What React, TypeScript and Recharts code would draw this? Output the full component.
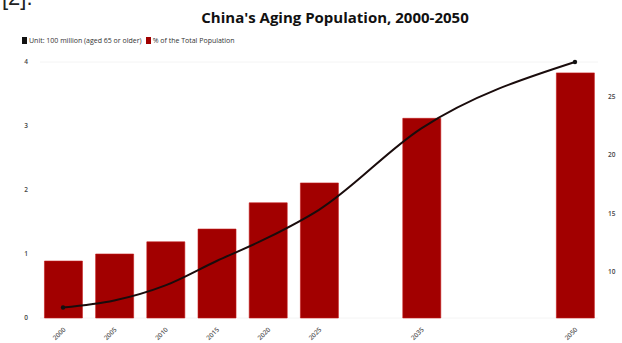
import React from 'react';
import { ComposedChart, Bar, Line, XAxis, YAxis, CartesianGrid } from 'recharts';

const years = [2000, 2005, 2010, 2015, 2020, 2025, 2035, 2050];
// aged 65+, hundred million people (bars, left axis)
const elderly = [0.89, 1.0, 1.19, 1.39, 1.8, 2.11, 3.12, 3.83];
// share of total population, % (line, right axis)
const share = [6.9, 7.5, 8.8, 10.9, 12.9, 15.3, 22.3, 28.0];
const leftTicks = [0, 1, 2, 3, 4];
const rightTicks = [10, 15, 20, 25];

const data = years.map((y, i) => ({ year: y, elderly: elderly[i], share: share[i] }));

const EndDot = (props: any) => {
    const { cx, cy, index } = props;
    if (index !== 0 && index !== years.length - 1) return <g key={index} />;
    return <circle key={index} cx={cx} cy={cy} r={2.2} fill="#111" />;
};

const XTick = (props: any) => {
    const { x, y, payload } = props;
    return (
        <text x={x + 3} y={y + 4} transform={`rotate(-45 ${x + 3} ${y + 4})`} textAnchor="end" fontSize={6.5} fontWeight={600} fill="#555">
            {payload.value}
        </text>
    );
};

export default function App() {
    return (
        <div style={{ position: 'absolute', left: 0, top: 0, width: 622, height: 343, background: '#fff', overflow: 'hidden', fontFamily: '"Open Sans", sans-serif' }}>
            <div style={{ position: 'absolute', left: 2, top: -15, fontSize: 22, color: '#222', fontFamily: 'Liberation Sans, sans-serif' }}>[2].</div>
            <div style={{ position: 'absolute', left: 0, width: 670, top: 7, textAlign: 'center', fontSize: 15, fontWeight: 700, color: '#111' }}>
                China's Aging Population, 2000-2050
            </div>
            <div style={{ position: 'absolute', left: 22, top: 36, fontSize: 7, color: '#333', display: 'flex', alignItems: 'center', whiteSpace: 'nowrap' }}>
                <span style={{ display: 'inline-block', width: 5, height: 7, background: '#111', marginRight: 2 }} />
                <span>Unit: 100 million (aged 65 or older)</span>
                <span style={{ display: 'inline-block', width: 5, height: 7, background: '#a00000', margin: '0 2px 0 4px' }} />
                <span>% of the Total Population</span>
            </div>
            <ComposedChart width={622} height={343} data={data} margin={{ top: 62, right: 0, left: 0, bottom: 0 }}>
                <CartesianGrid stroke="#f4f4f4" vertical={false} />
                <XAxis
                    dataKey="year"
                    type="number"
                    domain={[1997.75, 2052.25]}
                    ticks={years}
                    height={25}
                    axisLine={false}
                    tickLine={false}
                    tick={<XTick />}
                    interval={0}
                />
                <YAxis
                    yAxisId="left"
                    domain={[0, 4]}
                    ticks={leftTicks}
                    width={40}
                    axisLine={false}
                    tickLine={false}
                    tickSize={0}
                    tickMargin={12}
                    tick={{ fontSize: 6.5, fontWeight: 600, fill: '#444' }}
                />
                <YAxis
                    yAxisId="right"
                    orientation="right"
                    domain={[6, 28]}
                    ticks={rightTicks}
                    width={24}
                    axisLine={false}
                    tickLine={false}
                    tickSize={0}
                    tickMargin={10}
                    tick={{ fontSize: 6.5, fontWeight: 600, fill: '#444' }}
                />
                <Bar yAxisId="left" dataKey="elderly" fill="#a20000" stroke="#c41a1a" strokeWidth={0.6} barSize={38} isAnimationActive={false} />
                <Line yAxisId="right" type="monotone" dataKey="share" stroke="#1a0c0c" strokeWidth={2} dot={<EndDot />} activeDot={false} isAnimationActive={false} />
            </ComposedChart>
        </div>
    );
}
